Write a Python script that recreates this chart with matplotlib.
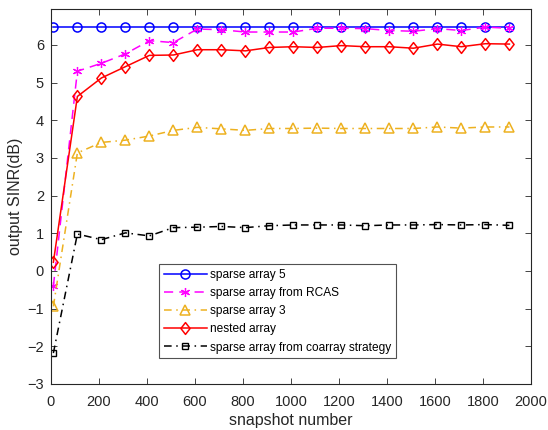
import matplotlib
matplotlib.use("Agg")
import matplotlib.pyplot as plt
from matplotlib.path import Path
import numpy as np

plt.rcParams['font.family'] = ['Liberation Sans', 'DejaVu Sans']

# snapshot counts (x axis)
snapshots = np.arange(10, 2000, 100)

# output SINR (dB) for each array configuration
sinr_sparse5 = [6.48] * 20
sinr_rcas = [-0.40, 5.30, 5.51, 5.76, 6.11, 6.06, 6.42, 6.40, 6.34, 6.34,
             6.34, 6.44, 6.44, 6.43, 6.38, 6.36, 6.43, 6.38, 6.47, 6.44]
sinr_sparse3 = [-0.94, 3.13, 3.41, 3.47, 3.58, 3.73, 3.81, 3.77, 3.73, 3.78,
                3.78, 3.79, 3.78, 3.78, 3.78, 3.78, 3.82, 3.79, 3.82, 3.82]
sinr_nested = [0.23, 4.63, 5.12, 5.42, 5.72, 5.73, 5.87, 5.87, 5.84, 5.93,
               5.95, 5.93, 5.98, 5.95, 5.95, 5.91, 6.02, 5.95, 6.03, 6.02]
sinr_coarray = [-2.18, 0.98, 0.83, 1.01, 0.93, 1.15, 1.16, 1.18, 1.15, 1.20,
                1.22, 1.22, 1.22, 1.20, 1.22, 1.22, 1.23, 1.22, 1.23, 1.21]

labels = ['sparse array 5', 'sparse array from RCAS', 'sparse array 3',
          'nested array', 'sparse array from coarray strategy']

# MATLAB-style diamond (wider than matplotlib's thin 'd')
diamond = Path([(-0.39, 0), (0, 0.5), (0.39, 0), (0, -0.5), (-0.39, 0)],
               [Path.MOVETO, Path.LINETO, Path.LINETO, Path.LINETO, Path.CLOSEPOLY])

dashdot = (5, 3, 1, 3)

fig = plt.figure(figsize=(5.48, 4.30), dpi=100)
ax = fig.add_axes([0.093, 0.107, 0.876, 0.872])

ax.plot(snapshots, sinr_sparse5, '-', color='#0000ff', marker='o', ms=6.5,
        mfc='none', mew=1.1, lw=1.1, label=labels[0])
ax.plot(snapshots, sinr_rcas, '--', color='#ff00ff', marker=(6, 2, 0), ms=6.5,
        mew=0.9, lw=1.1, dashes=(6, 4), label=labels[1])
ax.plot(snapshots, sinr_sparse3, '-.', color=(0.929, 0.694, 0.125), marker='^',
        ms=7.5, mfc='none', mew=1.1, lw=1.1, dashes=dashdot, label=labels[2])
ax.plot(snapshots, sinr_nested, '-', color='#ff0000', marker=diamond, ms=8.5,
        mfc='none', mew=1.1, lw=1.1, label=labels[3])
ax.plot(snapshots, sinr_coarray, '-.', color='k', marker='s', ms=4.5,
        mfc='none', mew=1.0, lw=1.1, dashes=dashdot, label=labels[4])

ax.set_xlim(0, 2000)
ax.set_ylim(-3, 6.95)
ax.set_xticks(np.arange(0, 2001, 200))
ax.set_yticks(np.arange(-3, 7, 1))

axis_grey = (0.15, 0.15, 0.15)
ax.tick_params(direction='in', top=True, right=True, labelsize=10.5,
               colors=axis_grey, length=4, width=0.6)
ax.tick_params(axis='x', pad=8)
ax.tick_params(axis='y', pad=5)
for sp in ax.spines.values():
    sp.set_color(axis_grey)
    sp.set_linewidth(0.8)

ax.set_xlabel('snapshot number', fontsize=11.5, color=axis_grey, labelpad=3)
ax.set_ylabel('output SINR(dB)', fontsize=11.5, color=axis_grey, labelpad=3)

leg = ax.legend(loc='upper left', bbox_to_anchor=(0.225, 0.32),
                fontsize=8.6, frameon=True, fancybox=False, handlelength=3.6,
                borderpad=0.4, labelspacing=0.52, handletextpad=0.3,
                borderaxespad=0)
leg.get_frame().set_edgecolor(axis_grey)
leg.get_frame().set_linewidth(0.8)

fig.savefig('out.png', dpi=100)
